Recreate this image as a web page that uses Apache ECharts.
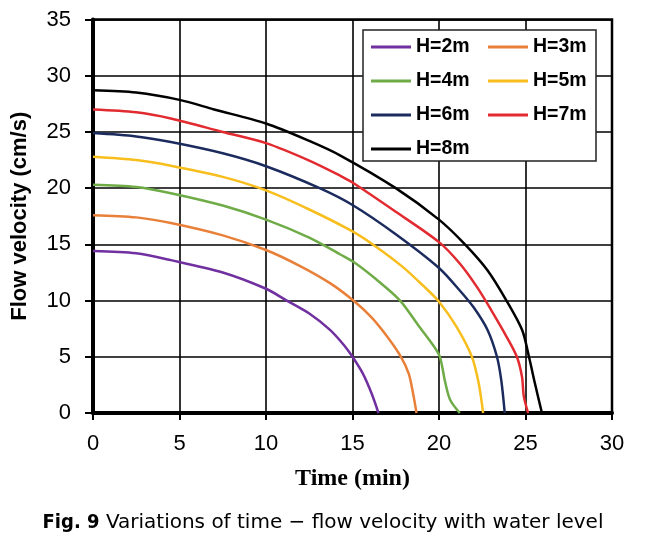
<!DOCTYPE html>
<html><head><meta charset="utf-8">
<script src="https://cdn.jsdelivr.net/npm/echarts@6/dist/echarts.min.js"></script>
<style>html,body{margin:0;padding:0;background:#fff}#c{width:646px;height:537px}</style>
</head><body><div id="c"></div>
<script>
// Data: [time (min), flow velocity (cm/s)]
const seriesNames = ['H=2m','H=3m','H=4m','H=5m','H=6m','H=7m','H=8m'];
const h2 = [[0,14.4],[2.5,14.2],[4.5,13.6],[7.5,12.5],[10,11.05],[11.2,10],[12.5,8.85],[13.7,7.4],[14.5,6.05],[15,5],[15.6,3.5],[16.1,1.75],[16.5,0]];
const h3 = [[0,17.6],[2.5,17.4],[4.5,16.9],[7.5,15.8],[10,14.5],[12,13.05],[13.7,11.55],[15.05,10],[16.1,8.5],[17,6.8],[17.8,5],[18.25,3.5],[18.5,1.75],[18.7,0]];
const h4 = [[0,20.3],[2.5,20.1],[4.5,19.55],[7.5,18.45],[10,17.2],[12.5,15.6],[14.3,14.1],[15.05,13.45],[16.4,11.85],[17.75,10],[18.8,7.8],[19.65,6.05],[20.05,5],[20.35,2.8],[20.65,1.15],[21.2,0]];
const h5 = [[0,22.8],[2.5,22.5],[4.5,22.0],[7.5,21.0],[10,19.8],[12.5,18.1],[15,16.15],[16.4,14.75],[17.9,13],[19.1,11.3],[20,9.9],[21,7.7],[21.9,5],[22.3,2.6],[22.55,0]];
const h6 = [[0,24.9],[2.5,24.6],[4.5,24.1],[7.5,23.1],[10,21.95],[13.1,20],[15,18.5],[17.5,15.9],[20,12.9],[21.2,10.9],[22,9.4],[22.8,7.4],[23.35,5],[23.6,2.9],[23.8,0]];
const h7 = [[0,27],[2.5,26.75],[4.5,26.2],[7.5,25.0],[10,24],[12.5,22.45],[14.3,21.1],[15,20.5],[17.5,17.9],[20,15.2],[21.2,13.3],[22.2,11.2],[23,9.2],[23.9,6.8],[24.5,5],[24.8,3.2],[24.9,1.5],[25.15,0]];
const h8 = [[0,28.7],[2.5,28.5],[5,27.85],[7,27],[10,25.75],[12.5,24.2],[14.3,22.9],[17.5,20],[20,17.2],[21.5,15],[22.8,12.7],[23.9,10],[24.8,7.4],[25.2,5],[25.55,2.6],[25.95,0]];
const seriesData = [h2,h3,h4,h5,h6,h7,h8];
const colors = ['#7030A0','#E9803A','#6FAC47','#F7BE1E','#1C2B5E','#E22B30','#000000'];
const xTicks = {min:0,max:30,interval:5};
const yTicks = {min:0,max:35,interval:5};

const chart = echarts.init(document.getElementById('c'));
const legendText = {fontFamily:'Liberation Sans, Arial, sans-serif',fontWeight:'bold',fontSize:19.5,color:'#000',lineHeight:19};
const lineIcon = 'path://M0,5.5 L40,5.5 L40,8.5 L0,8.5 Z';
chart.setOption({
  animation:false,
  color:colors,
  grid:{left:93,right:34,top:19.5,bottom:124,show:true,borderColor:'#000',borderWidth:2.5,z:0},
  xAxis:{type:'value',min:xTicks.min,max:xTicks.max,interval:xTicks.interval,
    name:'Time (min)',nameLocation:'middle',nameGap:54,
    nameTextStyle:{fontFamily:'Liberation Serif, Times New Roman, serif',fontWeight:'bold',fontSize:24,color:'#000'},
    axisLine:{show:true,onZero:false,lineStyle:{color:'#000',width:4}},
    axisTick:{show:true,length:7,lineStyle:{color:'#000',width:2}},
    axisLabel:{margin:20,fontFamily:'Liberation Sans, Arial, sans-serif',fontSize:22,color:'#000'},
    splitLine:{show:true,lineStyle:{color:'#000',width:1.6}}},
  yAxis:{type:'value',min:yTicks.min,max:yTicks.max,interval:yTicks.interval,
    name:'Flow velocity (cm/s)',nameLocation:'middle',nameGap:62,
    nameTextStyle:{fontFamily:'Liberation Sans, Arial, sans-serif',fontWeight:'bold',fontSize:22,color:'#000'},
    axisLine:{show:true,onZero:false,lineStyle:{color:'#000',width:4}},
    axisTick:{show:true,length:8,lineStyle:{color:'#000',width:2}},
    axisLabel:{margin:22,fontFamily:'Liberation Sans, Arial, sans-serif',fontSize:22,color:'#000'},
    splitLine:{show:true,lineStyle:{color:'#000',width:1.6}}},
  legend:[
    {orient:'vertical',left:371,top:37,padding:0,itemWidth:40,itemHeight:14,itemGap:14,
      data:[seriesNames[0],seriesNames[2],seriesNames[4],seriesNames[6]],textStyle:legendText,z:10,icon:lineIcon},
    {orient:'vertical',left:488,top:37,padding:0,itemWidth:40,itemHeight:14,itemGap:14,
      data:[seriesNames[1],seriesNames[3],seriesNames[5]],textStyle:legendText,z:10,icon:lineIcon}
  ],
  title:{text:'{b|Fig. 9} Variations of time − flow velocity with water level',left:'center',top:508,
    textStyle:{fontFamily:'DejaVu Sans, sans-serif',fontWeight:'normal',fontSize:20,color:'#000',
      rich:{b:{fontFamily:'DejaVu Sans Condensed, DejaVu Sans, sans-serif',fontWeight:'bold',fontSize:20,color:'#000'}}}},
  graphic:[{type:'rect',shape:{x:363,y:30,width:233,height:131},style:{fill:'#fff',stroke:'#222',lineWidth:1.5},z:5}],
  series:seriesData.map((d,i)=>({name:seriesNames[i],type:'line',data:d,showSymbol:false,smooth:0.3,
    lineStyle:{width:2.5,color:colors[i]},z:3}))
});
</script></body></html>
